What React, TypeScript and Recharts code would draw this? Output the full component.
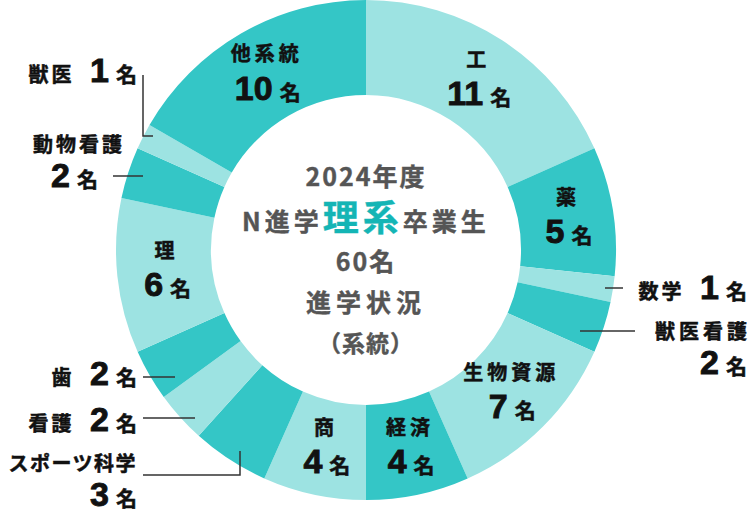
import React from "react";
import { PieChart, Pie, Cell, Label } from "recharts";

// graduates by field, clockwise from 12 o'clock
const NAMES = [
  "工",
  "薬",
  "数学",
  "獣医看護",
  "生物資源",
  "経済",
  "商",
  "スポーツ科学",
  "看護",
  "歯",
  "理",
  "動物看護",
  "獣医",
  "他系統",
];
const COUNTS = [11, 5, 1, 2, 7, 4, 4, 3, 2, 2, 6, 2, 1, 10];
const UNIT = "名";

const TITLE_YEAR = "2024年度";
const TITLE_PRE = "N進学";
const TITLE_KEY = "理系";
const TITLE_POST = "卒業生";
const TITLE_TOTAL = "60";
const TITLE_SUB1 = "進学状況";
const TITLE_SUB2 = "（系統）";

const LIGHT = "#9de3e2";
const DARK = "#34c6c6";
const TEAL = "#14b5b5";
const INK = "#111";
const GREY = "#555";
const FONT = "'Noto Sans CJK JP', 'Noto Sans', sans-serif";
const DIGITS = "'Liberation Sans', Arial, sans-serif";
const RAD = Math.PI / 180;

const data = NAMES.map((name, i) => ({ name, value: COUNTS[i] }));

// small slices get their labels outside the ring, with a leader line.
// all offsets are measured from the ring centre.
type Outside = {
  x: number;
  y: number;
  numX?: number;
  numY?: number;
  spacing?: number;
  line: [number, number][];
};

const OUTSIDE: Record<string, Outside> = {
  獣医: { x: -229, y: -168, line: [[-223, -175], [-223, -114], [-213, -114]] },
  動物看護: { x: -241, y: -98, numX: -268, numY: -63, line: [[-253, -74], [-223, -74]] },
  歯: { x: -229, y: 135, line: [[-223, 127], [-191, 127]] },
  看護: { x: -229, y: 181, line: [[-223, 168], [-171, 168]] },
  スポーツ科学: { x: -229, y: 221, numX: -229, numY: 256, spacing: 1.5, line: [[-223, 225], [-126, 225], [-126, 201]] },
  数学: { x: 381, y: 49, line: [[239, 38], [257, 38]] },
  獣医看護: { x: 385, y: 89, numX: 381, numY: 124, spacing: 4, line: [[214, 81], [269, 81]] },
};

const Count = ({ value }: { value: number }) => (
  <>
    <tspan fontSize={34} fontFamily={DIGITS} strokeWidth={0.9}>
      {value}
    </tspan>
    <tspan fontSize={21} dx={7}>
      {UNIT}
    </tspan>
  </>
);

const renderLabel = (props: any) => {
  const { cx, cy, midAngle, innerRadius, outerRadius, name, value } = props;
  const out = OUTSIDE[name];
  const common = { fill: INK, stroke: INK, strokeWidth: 0.5, fontFamily: FONT, fontWeight: 700 };

  if (out) {
    const pts = out.line.map(([dx, dy]) => `${cx + dx},${cy + dy}`).join(" ");
    const stacked = out.numY !== undefined;
    const ls = out.spacing ?? 3;
    return (
      <g>
        <polyline points={pts} fill="none" stroke="#333" strokeWidth={1.5} />
        {stacked ? (
          <>
            <text x={cx + out.x} y={cy + out.y} textAnchor="end" fontSize={20} letterSpacing={ls} {...common}>
              {name}
            </text>
            <text x={cx + (out.numX ?? out.x)} y={cy + (out.numY ?? 0)} textAnchor="end" {...common}>
              <Count value={value} />
            </text>
          </>
        ) : (
          <text x={cx + out.x} y={cy + out.y} textAnchor="end" {...common}>
            <tspan fontSize={20} letterSpacing={ls}>
              {name}
            </tspan>
            <tspan dx={12}> </tspan>
            <Count value={value} />
          </text>
        )}
      </g>
    );
  }

  const r = (innerRadius + outerRadius) / 2;
  const a = -midAngle * RAD;
  const x = cx + r * Math.cos(a);
  const y = cy + r * Math.sin(a);
  return (
    <g>
      <text x={x + 2} y={y - 22} textAnchor="middle" dominantBaseline="central" fontSize={20} letterSpacing={4} {...common}>
        {name}
      </text>
      <text x={x + 3} y={y + 25} textAnchor="middle" {...common}>
        <Count value={value} />
      </text>
    </g>
  );
};

const CenterTitle = (props: any) => {
  const vb = props.viewBox ?? {};
  const cx = vb.cx ?? 366;
  const cy = vb.cy ?? 250;
  const base = {
    fill: GREY,
    stroke: GREY,
    strokeWidth: 0.4,
    fontFamily: FONT,
    fontWeight: 700,
    textAnchor: "middle" as const,
  };
  return (
    <g>
      <text x={cx} y={cy - 64} fontSize={25} letterSpacing={2} {...base}>
        {TITLE_YEAR}
      </text>
      <text x={cx} y={cy - 19} fontSize={25} letterSpacing={4} {...base}>
        <tspan>{TITLE_PRE}</tspan>
        <tspan fontSize={36} fill={TEAL} stroke={TEAL}>
          {TITLE_KEY}
        </tspan>
        <tspan>{TITLE_POST}</tspan>
      </text>
      <text x={cx} y={cy + 21} fontSize={25} letterSpacing={2} {...base}>
        {TITLE_TOTAL}
        {UNIT}
      </text>
      <text x={cx} y={cy + 62} fontSize={25} letterSpacing={5} {...base}>
        {TITLE_SUB1}
      </text>
      <text x={cx} y={cy + 102} fontSize={23} letterSpacing={1} {...base}>
        {TITLE_SUB2}
      </text>
    </g>
  );
};

export default function App() {
  return (
    <div style={{ position: "fixed", left: 0, top: 0, width: 750, height: 520, background: "#fff" }}>
      <PieChart width={750} height={520} margin={{ top: 0, right: 0, bottom: 0, left: 0 }}>
        <Pie
          data={data}
          dataKey="value"
          nameKey="name"
          cx={366}
          cy={250}
          innerRadius={155}
          outerRadius={250}
          startAngle={90}
          endAngle={-270}
          stroke="none"
          labelLine={false}
          label={renderLabel}
          isAnimationActive={false}
        >
          {data.map((d, i) => (
            <Cell key={d.name} fill={i % 2 === 0 ? LIGHT : DARK} />
          ))}
          <Label position="center" content={<CenterTitle />} />
        </Pie>
      </PieChart>
    </div>
  );
}
